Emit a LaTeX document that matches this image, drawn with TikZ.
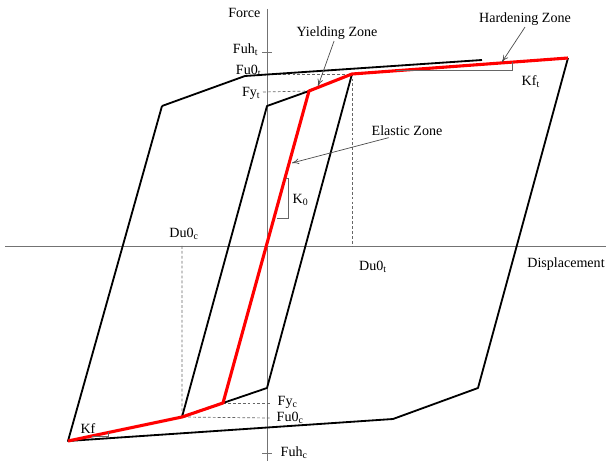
\documentclass[tikz,border=0pt]{standalone}
\usepackage{fontspec}
\setmainfont{Liberation Serif}
\usetikzlibrary{positioning, arrows.meta, calc}

\begin{document}
\begin{tikzpicture}[x=0.025cm, y=-0.025cm, >={To[length=5pt,width=4pt]},
    font=\fontsize{10}{12}\selectfont]
    % Styles
    \tikzstyle{axis} = [draw=black!55, line width=0.6pt]
    \tikzstyle{loop} = [draw=black, line width=1.3pt, line join=round]
    \tikzstyle{backbone} = [draw=red, line width=2.2pt, line join=round]
    \tikzstyle{guide} = [draw=black!60, line width=0.5pt, dash pattern=on 2pt off 1.5pt]
    \tikzstyle{slope} = [draw=black!60, line width=0.5pt]
    \tikzstyle{pointer} = [draw=black!70, line width=0.5pt, ->]
    \tikzstyle{lbl} = [inner sep=1pt]

    \useasboundingbox (0,0) rectangle (606,465);

    % Points of the loops
    \coordinate (xl) at (5,246);
    \coordinate (xr) at (606,246);
    \coordinate (yt) at (267,9);
    \coordinate (yb) at (267,461);
    % outer loop
    \coordinate (ocl) at (68,441);
    \coordinate (ocb) at (393,419);
    \coordinate (ocr) at (478,388);
    \coordinate (otr) at (568,58);
    \coordinate (otl) at (162,106);
    \coordinate (otm) at (245,76);
    \coordinate (ote) at (482,60);
    % inner loop
    \coordinate (yc) at (182,417);
    \coordinate (yyc) at (223,403);
    \coordinate (ibr) at (267,388);
    \coordinate (ut) at (352,74);
    \coordinate (yyt) at (309,91);
    \coordinate (itl) at (267,106);
    % axis feet of the guides
    \coordinate (dut) at (352,246);
    \coordinate (duc) at (182,246);

    % Axes
    \draw [axis] (xl) -- (xr);
    \draw [axis] (yt) -- (yb);
    \draw [axis] (262,52) -- (272,52);
    \draw [axis] (262,453) -- (272,453);

    % Guides
    \draw [guide] (263,74) -- (ut) -- (dut);
    \draw [guide] (263,92) -- (yyt);
    \draw [guide] (duc) -- (yc) -- (270,418);
    \draw [guide] (yyc) -- (270,403);

    % Loops
    \draw [loop] (otl) -- (otm) -- (ote);
    \draw [loop] (otl) -- (ocl) -- (ocb) -- (ocr) -- (otr);
    \draw [loop] (yyt) -- (itl) -- (yc) -- (yyc) -- (ibr) -- (ut);
    \draw [backbone] (ocl) -- (yc) -- (yyc) -- (yyt) -- (ut) -- (otr);

    % Slope marks
    \draw [slope] (286,178) -- (288,178) -- (288,218) -- (277,218);
    \draw [slope] (396,70) -- (512,70) -- (512,62);
    \draw [slope] (92,436) -- (108,436) -- (108,432);

    % Labels
    \node [lbl, anchor=east] (force) at (262,13) {Force};
    \node [lbl, anchor=east] (fuht) at (260,50) {Fuh\textsubscript{t}};
    \node [lbl, anchor=east] (fu0t) at (263,71) {Fu0\textsubscript{t}};
    \node [lbl, anchor=east] (fyt) at (262,93) {Fy\textsubscript{t}};
    \node [lbl] (yield) at (337,33) {Yielding Zone};
    \node [lbl] (harden) at (525,19) {Hardening Zone};
    \node [lbl, anchor=west] (kft) at (520,82) {Kf\textsubscript{t}};
    \node [lbl] (elastic) at (407,131) {Elastic Zone};
    \node [lbl, anchor=west] (k0) at (291,200) {K\textsubscript{0}};
    \node [lbl] (du0c) at (184,234) {Du0\textsubscript{c}};
    \node [lbl] (du0t) at (373,267) {Du0\textsubscript{t}};
    \node [lbl] (disp) at (566,264) {Displacement};
    \node [lbl, anchor=west] (fyc) at (276,402) {Fy\textsubscript{c}};
    \node [lbl, anchor=west] (fu0c) at (275,418) {Fu0\textsubscript{c}};
    \node [lbl, anchor=west] (fuhc) at (279,453) {Fuh\textsubscript{c}};
    \node [lbl] (kfc) at (88,429) {Kf};

    % Arrows
    \coordinate (yldpt) at (318,86);
    \coordinate (hrdpt) at (502,62);
    \coordinate (elspt) at (292,163);
    \draw [pointer] (yield.250) -- (yldpt);
    \draw [pointer] (harden.south) -- (hrdpt);
    \draw [pointer] (elastic.200) -- (elspt);
\end{tikzpicture}
\end{document}
